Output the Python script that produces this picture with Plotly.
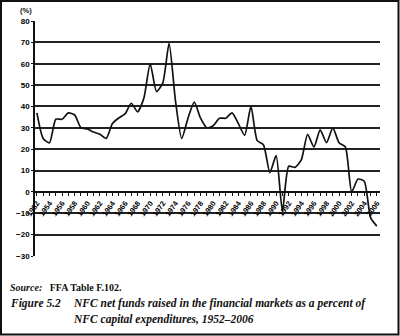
import plotly.graph_objects as go

years = list(range(1952, 2007))
values = [37, 25, 23, 34, 34, 37, 36, 30, 29.5, 28, 27, 25, 32, 34.6, 36.5,
          41.5, 37.5, 44, 60, 47, 51, 69.5, 43, 25, 34.5, 42, 34.5, 30, 31,
          34.5, 34.5, 37, 32, 26.5, 40, 24, 22, 9, 17, -9, 12, 11.5, 15, 27,
          21, 29, 23, 30, 23, 21, 0, 6, 5, -12, -16]
tick_years = list(range(1952, 2007, 2))
y_ticks = list(range(-30, 81, 10))

L, R, T, B = 35, 20, 21, 80
W, H = 400, 336
pw, ph = W - L - R, H - T - B

fig = go.Figure()
fig.add_trace(go.Scatter(x=years, y=values, mode="lines",
                         line=dict(color="#111", width=1.7, shape="spline", smoothing=0.6),
                         showlegend=False))

ymin, ymax = -30, 80
zero_pos = (0 - ymin) / (ymax - ymin)

fig.update_layout(
    width=W, height=H,
    margin=dict(l=L, r=R, t=T, b=B),
    paper_bgcolor="white", plot_bgcolor="white",
    font=dict(family="Liberation Sans", color="#111"),
    xaxis=dict(range=[1951.7, 2006.5], anchor="free", position=zero_pos,
               tickvals=tick_years, ticktext=[str(y) for y in tick_years],
               tickangle=-55, tickfont=dict(size=7.5, family="Liberation Sans", weight="bold", color="#000"),
               ticks="outside", ticklen=3, tickwidth=1.2, tickcolor="#111",
               minor=dict(dtick=1, tick0=1952, ticks="outside", ticklen=3, tickwidth=1.2, tickcolor="#111"),
               showline=True, linecolor="#111", linewidth=2, showgrid=False, zeroline=False),
    yaxis=dict(range=[ymin, ymax], tickvals=y_ticks,
               tickfont=dict(size=8, family="Liberation Sans", weight="bold", color="#000"),
               showgrid=True, gridcolor="#222", gridwidth=1.7,
               showline=True, linecolor="#111", linewidth=1.6,
               ticks="outside", ticklen=2, tickcolor="#111",
               zeroline=True, zerolinecolor="#111", zerolinewidth=2),
)

def px_x(p):
    return (p - L) / pw

def px_y(p):
    return (H - B - p) / ph

fig.add_annotation(x=px_x(26), y=px_y(10), xref="paper", yref="paper",
                   text="(%)", showarrow=False, font=dict(size=7.5, family="Liberation Sans", weight="bold"),
                   xanchor="center", yanchor="middle")
fig.add_annotation(x=px_x(8), y=px_y(287), xref="paper", yref="paper",
                   text="<b><i>Source:</i></b>   <b>FFA Table F.102.</b>", showarrow=False,
                   font=dict(size=10, family="Liberation Serif"), xanchor="left", yanchor="middle")
fig.add_annotation(x=px_x(8), y=px_y(303), xref="paper", yref="paper",
                   text="<b><i>Figure 5.2</i></b>", showarrow=False,
                   font=dict(size=11.5, family="Liberation Serif"), xanchor="left", yanchor="middle")
fig.add_annotation(x=px_x(71), y=px_y(303), xref="paper", yref="paper",
                   text="<b><i>NFC net funds raised in the financial markets as a percent of</i></b>",
                   showarrow=False, font=dict(size=11.5, family="Liberation Serif"),
                   xanchor="left", yanchor="middle")
fig.add_annotation(x=px_x(71), y=px_y(319), xref="paper", yref="paper",
                   text="<b><i>NFC capital expenditures, 1952–2006</i></b>",
                   showarrow=False, font=dict(size=11.5, family="Liberation Serif"),
                   xanchor="left", yanchor="middle")
fig.add_shape(type="rect", xref="paper", yref="paper",
              x0=px_x(1), x1=px_x(398.5), y0=px_y(334.5), y1=px_y(1),
              line=dict(color="#111", width=2), fillcolor="rgba(0,0,0,0)", layer="above")

fig.write_html("out.html")
